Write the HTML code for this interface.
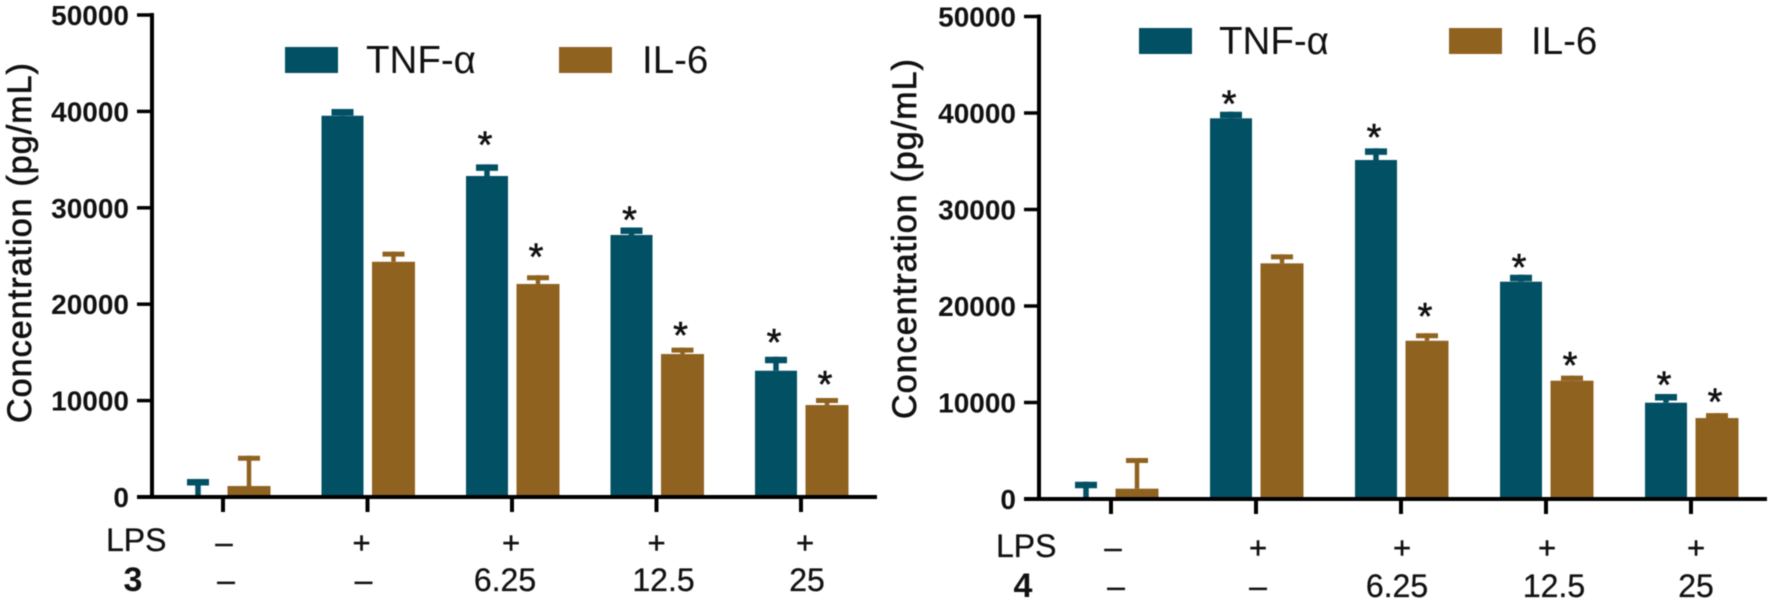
<!DOCTYPE html>
<html lang="en">
<head>
<meta charset="utf-8">
<title>TNF-α and IL-6 concentration charts</title>
<style>
html,body{margin:0;padding:0;background:#fff;}
body{width:1772px;height:602px;overflow:hidden;}
svg{display:block;filter:blur(0.6px);}
text{font-family:"Liberation Sans",Arial,sans-serif;fill:#111;}
</style>
</head>
<body>
<svg id="figure" xmlns="http://www.w3.org/2000/svg" width="1772" height="602" viewBox="0 0 1772 602"></svg>
<script>
const yTickValues = [0, 10000, 20000, 30000, 40000, 50000];
const yTitle = "Concentration (pg/mL)";
const seriesNames = ["TNF-α", "IL-6"];
const lpsLabels = ["–", "+", "+", "+", "+"];
const compoundLabels = ["–", "–", "6.25", "12.5", "25"];

const left_tnf = [100, 39550, 33300, 27180, 13100];
const left_tnf_err = [1770, 700, 1200, 780, 1450];
const left_il6 = [1140, 24400, 22100, 14830, 9540];
const left_il6_err = [3140, 1050, 900, 660, 730];
// Height of each significance star above its error bar, in pg/mL (null = no star).
const left_tnf_star = [null, null, 2600, 1350, 2070];
const left_il6_star = [null, null, 2490, 1870, 1970];

const right_tnf = [100, 39450, 35130, 22520, 9980];
const right_tnf_err = [1690, 680, 1210, 720, 900];
const right_il6 = [1070, 24420, 16400, 12260, 8390];
const right_il6_err = [3180, 930, 770, 520, 510];
const right_tnf_star = [null, 1420, 1720, 1350, 1550];
const right_il6_star = [null, null, 2340, 1630, 1760];

const TEAL = "#025064";
const BROWN = "#906220";
const STAR_SIZE = 38;
const NS = "http://www.w3.org/2000/svg";
const root = document.getElementById("figure");

function make(parent, tag, attrs, txt) {
  const node = document.createElementNS(NS, tag);
  for (const k in attrs) node.setAttribute(k, attrs[k]);
  if (txt !== undefined) node.textContent = txt;
  parent.appendChild(node);
  return node;
}

function drawChart(L, tnf, tnfErr, il6, il6Err, tnfStar, il6Star) {
  const yPos = v => L.y0 - v * L.yScale;
  const xPos = i => L.x0 + i * L.xStep;

  const g = make(root, "g", {});
  
  

  // y axis
  const yAxis = make(g, "line", {x1: L.axisX, x2: L.axisX, y1: yPos(50000) - 2, y2: L.y0 + 2, stroke: "#000", "stroke-width": 4});
  
  

  yTickValues.forEach(v => {
    const tick = make(g, "line", {x1: L.axisX - 15, x2: L.axisX, y1: yPos(v), y2: yPos(v), stroke: "#000", "stroke-width": 3.5});
    
    
    const lab = make(g, "text", {x: L.axisX - 23, y: yPos(v) + 10, "text-anchor": "end", "font-size": 28, "font-weight": "bold"}, String(v));
    
    
  });

  const title = make(g, "text", {
    transform: "translate(" + L.titleX + "," + L.titleY + ") rotate(-90)",
    "text-anchor": "middle", "font-size": 34, textLength: 360, lengthAdjust: "spacing",
    stroke: "#111", "stroke-width": 0.7
  }, yTitle);
  
  

  // bars
  function series(values, errs, stars, dx, color, capT, stemW, barW) {
    values.forEach((v, i) => {
      const cx = xPos(i) + dx;
      const top = yPos(v);
      const errTop = yPos(v + errs[i]);
      const stem = make(g, "line", {x1: cx, x2: cx, y1: top, y2: errTop, stroke: color, "stroke-width": stemW});
      
      
      const cap = make(g, "line", {x1: cx - 11, x2: cx + 11, y1: errTop + capT / 2, y2: errTop + capT / 2, stroke: color, "stroke-width": capT});
      
      
      const bar = make(g, "rect", {x: cx - barW / 2, y: top, width: barW, height: L.y0 - top, fill: color});
      
      
      if (stars[i] !== null) {
        const starCenter = yPos(v + errs[i] + stars[i]);
        const star = make(g, "text", {x: cx - 2, y: starCenter + 0.48 * STAR_SIZE, "text-anchor": "middle", "font-size": STAR_SIZE, stroke: "#111", "stroke-width": 0.6}, "*");
        
        
      }
    });
  }
  series(tnf, tnfErr, tnfStar, -25, TEAL, 6.5, 5.5, 42);
  series(il6, il6Err, il6Star, 26, BROWN, 5, 4.5, 43);

  // x axis
  const xAxis = make(g, "line", {x1: L.axisX - 15, x2: L.axisEnd, y1: L.y0, y2: L.y0, stroke: "#000", "stroke-width": 4});
  
  

  lpsLabels.forEach((s, i) => {
    const tick = make(g, "line", {x1: xPos(i), x2: xPos(i), y1: L.y0, y2: L.y0 + 15, stroke: "#000", "stroke-width": 4});
    
    
    const lab = make(g, "text", {x: xPos(i) + L.lpsDx[i], y: L.row1, "text-anchor": "middle", "font-size": 31, stroke: "#111", "stroke-width": 0.4}, s);
    
    
  });
  compoundLabels.forEach((s, i) => {
    const lab = make(g, "text", {x: xPos(i) + L.compDx[i], y: L.row2, "text-anchor": "middle", "font-size": 32, stroke: "#111", "stroke-width": 0.3}, s);
    
    
  });

  const lpsName = make(g, "text", {x: L.lpsX, y: L.row2 - 40, "font-size": 32, stroke: "#111", "stroke-width": 0.3}, "LPS");
  
  
  const compName = make(g, "text", {x: L.compX, y: L.row2, "text-anchor": "middle", "font-size": 34, "font-weight": "bold"}, L.compound);
  
  

  // legend
  const swatch1 = make(g, "rect", {x: L.leg[0], y: L.legY, width: 53, height: 26, fill: TEAL});
  
  
  const legend1 = make(g, "text", {x: L.leg[1], y: L.legY + 26, "font-size": 38.5}, seriesNames[0]);
  
  
  const swatch2 = make(g, "rect", {x: L.leg[2], y: L.legY, width: 53, height: 26, fill: BROWN});
  
  
  const legend2 = make(g, "text", {x: L.leg[3], y: L.legY + 26, "font-size": 38.5}, seriesNames[1]);
  
  
}

drawChart({
  axisX: 152, axisEnd: 877, y0: 497, yScale: 0.00964, x0: 223, xStep: 144.5,
  titleX: 31, titleY: 243,
  row1: 553, row2: 591, lpsX: 106, compX: 133, compound: "3",
  lpsDx: [1, -6, -1, 0, 4], compDx: [3, -4, -7, 7, 6],
  leg: [285, 366, 559, 642], legY: 47
}, left_tnf, left_tnf_err, left_il6, left_il6_err, left_tnf_star, left_il6_star);

drawChart({
  axisX: 1039, axisEnd: 1767, y0: 499, yScale: 0.00965, x0: 1111, xStep: 145,
  titleX: 916, titleY: 239,
  row1: 558, row2: 597, lpsX: 996, compX: 1023, compound: "4",
  lpsDx: [2, 2, 1, 1, 5], compDx: [5, 2, -4, 8, 5],
  leg: [1139, 1219, 1449, 1531], legY: 28
}, right_tnf, right_tnf_err, right_il6, right_il6_err, right_tnf_star, right_il6_star);
</script>
</body>
</html>
